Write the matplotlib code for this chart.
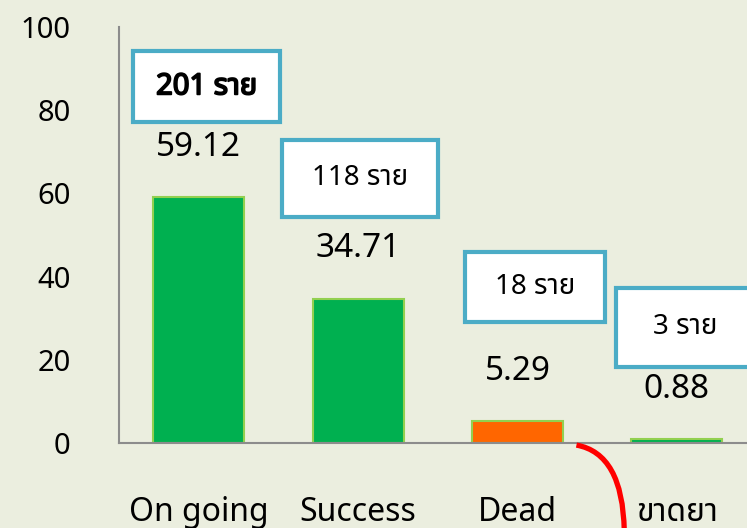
import numpy as np
import matplotlib.pyplot as plt
import matplotlib.patheffects as pe
from matplotlib.patches import Rectangle
from matplotlib.path import Path
from matplotlib.patches import PathPatch

categories = ["On going", "Success", "Dead", "ขาดยา"]
percents = [59.12, 34.71, 5.29, 0.88]
counts = ["201 ราย", "118 ราย", "18 ราย", "3 ราย"]
bar_colors = ["#00B050", "#00B050", "#FF6600", "#00B050"]

thai = ["Noto Sans Thai", "Noto Sans Thai UI", "Loma", "Garuda", "Waree",
        "Sawasdee", "Tlwg Typo", "Norasi", "Kinnari", "DejaVu Sans"]
plt.rcParams['font.family'] = thai

bg = "#EBEEDF"
fig = plt.figure(figsize=(7.47, 5.28), dpi=100, facecolor=bg)
ax = fig.add_axes([0.1593, 0.161, 0.8407, 0.788])
ax.set_facecolor(bg)

x = np.arange(len(categories))
ax.bar(x, percents, width=0.57, color=bar_colors, edgecolor="#92D050", linewidth=1.5, zorder=2)

# value labels above bars
for i in range(len(percents)):
    ax.text(x[i], percents[i] + 12, f"{percents[i]:.2f}", ha="center", va="center",
            fontsize=24, color="black")

# count boxes (center x, center y, width, height, bold)
boxes = [(0.05, 85.6, 0.92, 17.0, True),
         (1.01, 63.6, 0.98, 18.5, False),
         (2.11, 37.5, 0.88, 16.8, False),
         (3.06, 27.8, 0.88, 19.0, False)]
for i in range(len(counts)):
    cx, cy, w, h, bold = boxes[i]
    ax.add_patch(Rectangle((cx - w / 2, cy - h / 2), w, h, facecolor="white",
                           edgecolor="#4BACC6", linewidth=3, zorder=3, clip_on=False))
    t = ax.text(cx if i < 3 else 3.05, cy, counts[i], ha="center", va="center",
                fontsize=21 if bold else 20, zorder=4, clip_on=False)
    if bold:
        # fake bold, the Thai font has no bold face here
        t.set_path_effects([pe.withStroke(linewidth=1.3, foreground="black")])

# red curved line
verts = [(2.37, -0.5), (2.66, -2.5), (2.67, -21.0)]
path = Path(verts, [Path.MOVETO, Path.CURVE3, Path.CURVE3])
ax.add_patch(PathPatch(path, facecolor="none", edgecolor="#FF0000", linewidth=3.8,
                       clip_on=False, zorder=5))

ax.set_xlim(-0.5, 3.44)
ax.set_ylim(0, 100)
ax.set_yticks([0, 20, 40, 60, 80, 100])
ax.set_xticks(x)
ax.set_xticklabels(categories, fontsize=23)
ax.tick_params(axis="y", length=0, pad=35, labelsize=21)
ax.tick_params(axis="x", length=0, pad=38)
for s in ["top", "right"]:
    ax.spines[s].set_visible(False)
ax.spines["left"].set_color("#8C8C8C")
ax.spines["bottom"].set_color("#8C8C8C")
ax.spines["left"].set_linewidth(1.5)
ax.spines["bottom"].set_linewidth(1.5)

fig.savefig("out.png", dpi=100, facecolor=bg)
